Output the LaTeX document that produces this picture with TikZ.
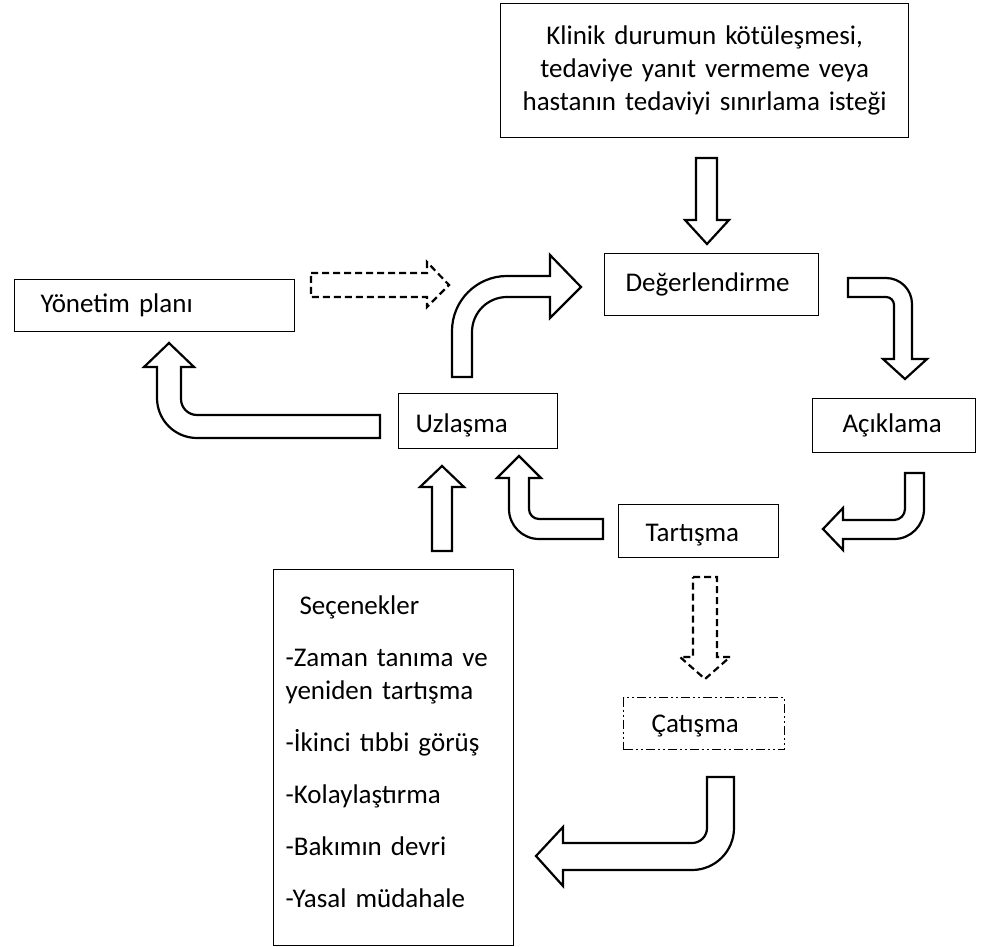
\documentclass[tikz,border=0pt]{standalone}
\usepackage{fontspec}
\setmainfont{Carlito}
\usepackage{tikz}
\usetikzlibrary{calc}

\tikzset{
  box/.style={draw, line width=1.2pt, anchor=north west, align=left, inner ysep=0pt,
    font=\fontsize{27}{33}\selectfont},
  blockarrow/.style={draw, fill=white, line width=2.2pt, line join=miter},
  dashedarrow/.style={blockarrow, dash pattern=on 7pt off 4pt},
  dashdotdot/.style={dash pattern=on 9pt off 3pt on 2pt off 3pt on 2pt off 3pt},
}

\begin{document}
\begin{tikzpicture}[x=1pt, y=-1pt]
      \useasboundingbox (0,0) rectangle (982,947);

      \node[box, align=center, minimum width=408pt, minimum height=134pt, text width=398pt, inner xsep=5pt] (trigger) at (500,3)
        {Klinik durumun kötüleşmesi,\\ tedaviye yanıt vermeme veya\\ hastanın tedaviyi sınırlama isteği};
      \node[box, minimum width=214pt, minimum height=62pt, text width=172pt, inner xsep=21pt] (assess) at (604,253) {Değerlendirme};
      \node[box, minimum width=280pt, minimum height=52pt, text width=228pt, inner xsep=26pt] (plan) at (14,279) {Yönetim planı};
      \node[box, minimum width=159pt, minimum height=55pt, text width=125pt, inner xsep=17pt, text height=27pt] (consensus) at (398,393) {Uzlaşma};
      \node[box, minimum width=163pt, minimum height=54pt, text width=103pt, inner xsep=30pt] (explain) at (812,398) {Açıklama};
      \node[box, minimum width=160pt, minimum height=53pt, text width=106pt, inner xsep=27pt, text height=26pt] (discuss) at (618,504) {Tartışma};
      \node[box, dashdotdot, minimum width=161pt, minimum height=52pt, text width=105pt, inner xsep=28pt, text height=22pt] (conflict) at (623,697) {Çatışma};
      \node[box, minimum width=240pt, minimum height=376pt, text width=216pt, inner xsep=12pt] (options) at (273,569)
        {\hspace*{14pt}Seçenekler\\[19pt] \mbox{-Zaman tanıma ve}\\ \mbox{yeniden tartışma}\\[19pt] \mbox{-İkinci tıbbi görüş}\\[19pt]
         \mbox{-Kolaylaştırma}\\[19pt] \mbox{-Bakımın devri}\\[19pt] \mbox{-Yasal müdahale}\rule[-12pt]{0pt}{0pt}};

      % trigger -> assess
      \draw[blockarrow] (696,158) -- (717,158) -- (717,220) -- (729,220) -- (707,244) -- (685,220) -- (696,220) -- cycle;

      % plan -> assess (dashed)
      \draw[dashedarrow] (311,273) -- (427,273) -- (427,262) -- (449,285) -- (427,307) -- (427,297) -- (311,297) -- cycle;

      % consensus -> assess
      \draw[blockarrow] (452,377) -- (452,331) arc[start angle=180, end angle=90, radius=55pt] -- (550,276) -- (550,255)
        -- (581,287) -- (550,318) -- (550,297) -- (507,297) arc[start angle=90, end angle=180, radius=35pt] -- (472,377) -- cycle;

      % assess -> explain
      \draw[blockarrow] (848,278) -- (886,278) arc[start angle=90, end angle=0, radius=26pt] -- (912,359) -- (927,359)
        -- (905,379) -- (883,359) -- (894,359) -- (894,305) arc[start angle=0, end angle=90, radius=8pt] -- (848,297) -- cycle;

      % explain -> discuss
      \draw[blockarrow] (905,473) -- (924,473) -- (924,509) arc[start angle=0, end angle=-90, radius=30pt] -- (843,539) -- (843,550)
        -- (823,529) -- (843,508) -- (843,520) -- (894,520) arc[start angle=-90, end angle=0, radius=11pt] -- cycle;

      % discuss -> consensus
      \draw[blockarrow] (603,519) -- (539,519) arc[start angle=-90, end angle=-180, radius=10pt] -- (529,478) -- (541,478)
        -- (519,456) -- (497,478) -- (509,478) -- (509,509) arc[start angle=180, end angle=270, radius=30pt] -- (603,539) -- cycle;

      % options -> consensus
      \draw[blockarrow] (432,551) -- (432,487) -- (420,487) -- (442,466) -- (464,487) -- (452,487) -- (452,551) -- cycle;

      % consensus -> plan
      \draw[blockarrow] (380,415) -- (197,415) arc[start angle=-90, end angle=-180, radius=16pt] -- (181,367) -- (194,367)
        -- (169,343) -- (144,367) -- (157,367) -- (157,398) arc[start angle=180, end angle=270, radius=40pt] -- (380,438) -- cycle;

      % discuss -> conflict (dashed)
      \draw[dashedarrow] (693,577) -- (717,577) -- (717,657) -- (730,657) -- (705,679) -- (680,657) -- (693,657) -- cycle;

      % conflict -> options
      \draw[blockarrow] (707,777) -- (734,777) -- (734,828) arc[start angle=0, end angle=-90, radius=42pt] -- (563,870) -- (563,886)
        -- (536,856) -- (563,827) -- (563,843) -- (692,843) arc[start angle=-90, end angle=0, radius=15pt] -- cycle;
\end{tikzpicture}
\end{document}
